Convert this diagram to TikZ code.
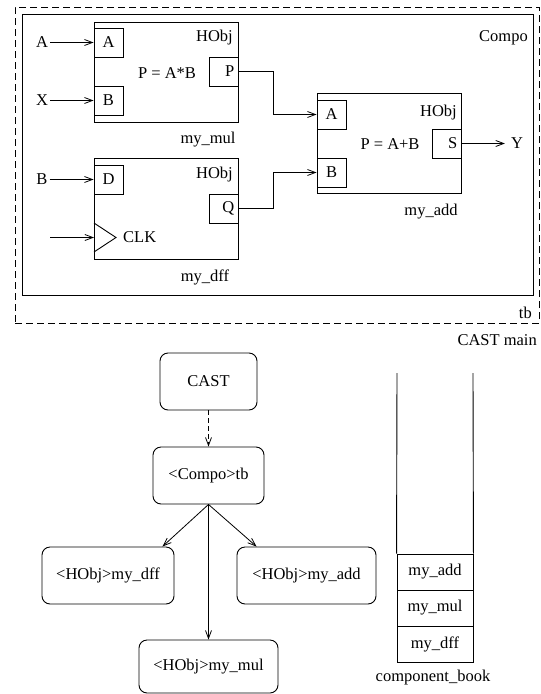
\documentclass[tikz,border=0pt]{standalone}
\usepackage{fontspec}
\setmainfont{Liberation Serif}
\usetikzlibrary{arrows.meta,calc}
\begin{document}
\begin{tikzpicture}[x=1pt,y=-1pt,
  every node/.style={font=\fontsize{16.5}{19}\selectfont, inner sep=0pt},
  box/.style={draw, line width=0.9pt},
  port/.style={draw, line width=0.9pt, minimum width=29pt, minimum height=29pt},
  arr/.style={line width=0.8pt, -{Straight Barb[length=8pt,width=6pt]}},
  rbox/.style={draw, line width=0.9pt, rounded corners=8pt},
  cell/.style={draw, line width=0.9pt, minimum width=76pt, minimum height=36pt}
]
\useasboundingbox (0,0) rectangle (541,694);

% containers
\node[draw, line width=0.9pt, dash pattern=on 7pt off 4pt, minimum width=524pt, minimum height=316pt] (tb) at (277,165) {};
\node[box, minimum width=511pt, minimum height=281pt] (compo) at (277.5,154.5) {};
\node[anchor=east] (compolbl) at (528,38) {Compo};
\node[anchor=east] (tblbl) at (532,313) {tb};
\node[anchor=east] (castmain) at (537,340) {CAST main};

% my_mul
\node[box, minimum width=144pt, minimum height=100pt] (mul) at (166,72) {};
\node[port] (mulA) at (108.5,42.5) {A};
\node[port] (mulB) at (108.5,100.5) {B};
\node[port] (mulP) at (223.5,71.5) {};
\node[anchor=east] (mulPl) at ($(mulP.east)+(-4,0)$) {P};
\node[anchor=east] (mulH) at (233,38) {HObj};
\node (mulF) at (167,73) {P = A*B};
\node (mulN) at (208,140) {my\_mul};

% my_dff
\node[box, minimum width=144pt, minimum height=101pt] (dff) at (166,208.5) {};
\node[port] (dffD) at (108.5,179.5) {D};
\node[port] (dffQ) at (223.5,208.5) {};
\node[anchor=east] (dffQl) at ($(dffQ.east)+(-4,0)$) {Q};
\node[anchor=east] (dffH) at (233,175) {HObj};
\draw[line width=0.9pt] (94,223) -- (116,237.5) -- (94,252);
\coordinate (clkin) at (94,237.5);
\node[anchor=west] (clk) at (123,237.5) {CLK};
\node (dffN) at (205,277) {my\_dff};

% my_add
\node[box, minimum width=144pt, minimum height=100pt] (add) at (389,143) {};
\node[port] (addA) at (331.5,114.5) {A};
\node[port] (addB) at (331.5,172.5) {B};
\node[port] (addS) at (446.5,143.5) {};
\node[anchor=east] (addSl) at ($(addS.east)+(-4,0)$) {S};
\node[anchor=east] (addH) at (457,113) {HObj};
\node (addF) at (390,144) {P = A+B};
\node (addN) at (431,212) {my\_add};

% inputs / outputs
\node (inA) at (42,42.5) {A};
\node (inX) at (42,100.5) {X};
\node (inB) at (42,179.5) {B};
\node (outY) at (517,143.5) {Y};
\coordinate (clkstart) at (50,237.5);
\draw[arr, shorten <=2pt] (inA.east) -- (mulA.west);
\draw[arr, shorten <=2pt] (inX.east) -- (mulB.west);
\draw[arr, shorten <=2pt] (inB.east) -- (dffD.west);
\draw[arr] (clkstart) -- (clkin);
\draw[arr, shorten >=6pt] (addS.east) -- (outY.west);
\draw[arr] (mulP.east) -- (273,71.5) |- (addA.west);
\draw[arr] (dffQ.east) -- (273,208.5) |- (addB.west);

% tree
\node[rbox, minimum width=97pt, minimum height=57pt] (cast) at (208.5,381.5) {CAST};
\node[rbox, minimum width=111pt, minimum height=57pt] (tbn) at (208.5,475.5) {<Compo>tb};
\node[rbox, minimum width=132pt, minimum height=57pt] (dffn) at (108,575.5) {<HObj>my\_dff};
\node[rbox, minimum width=139pt, minimum height=57pt] (addn) at (306.5,575.5) {<HObj>my\_add};
\node[rbox, minimum width=139pt, minimum height=53pt] (muln) at (208.5,666.5) {<HObj>my\_mul};
\draw[arr, dash pattern=on 5pt off 3pt] (cast.south) -- (tbn.north);
\draw[arr] (tbn.south) -- ($(dffn.north east)+(-12,0)$);
\draw[arr] (tbn.south) -- ($(addn.north west)+(20,0)$);
\draw[arr] (tbn.south) -- (muln.north);

% component book
\node[cell] (bkadd) at (435,572) {my\_add};
\node[cell] (bkmul) at (435,608) {my\_mul};
\node[cell] (bkdff) at (435,644) {my\_dff};
\draw[line width=0.9pt] (bkadd.north west) -- (397,373);
\draw[line width=0.9pt] (bkadd.north east) -- (473,373);
\node (book) at (433,678) {component\_book};
\end{tikzpicture}
\end{document}
